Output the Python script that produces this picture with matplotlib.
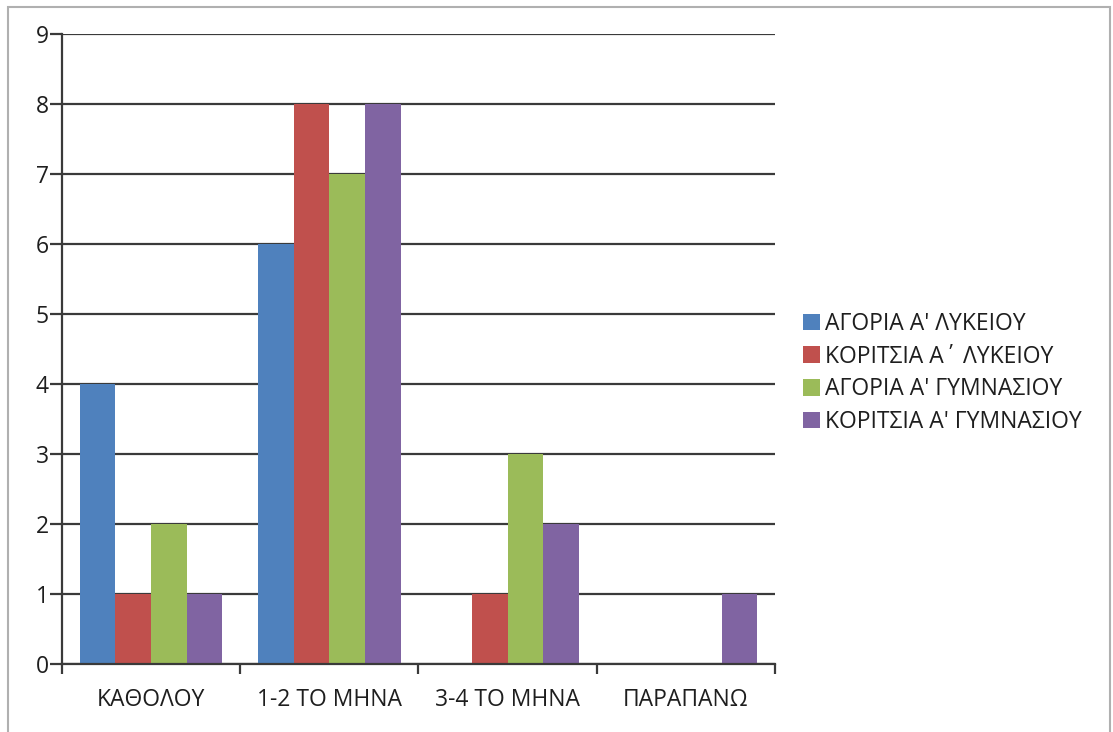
import numpy as np
import matplotlib.pyplot as plt
from matplotlib.patches import Rectangle

plt.rcParams['font.family'] = ['Open Sans', 'DejaVu Sans']

categories = ["ΚΑΘΟΛΟΥ", "1-2 ΤΟ ΜΗΝΑ", "3-4 ΤΟ ΜΗΝΑ", "ΠΑΡΑΠΑΝΩ"]
series_names = ["ΑΓΟΡΙΑ Α' ΛΥΚΕΙΟΥ", "ΚΟΡΙΤΣΙΑ Α΄ ΛΥΚΕΙΟΥ",
                "ΑΓΟΡΙΑ Α' ΓΥΜΝΑΣΙΟΥ", "ΚΟΡΙΤΣΙΑ Α' ΓΥΜΝΑΣΙΟΥ"]
boys_lyk = [4, 6, 0, 0]
girls_lyk = [1, 8, 1, 0]
boys_gym = [2, 7, 3, 0]
girls_gym = [1, 8, 2, 1]
colors = ["#4F81BD", "#C0504D", "#9BBB59", "#8064A2"]

fs = 16.5

fig = plt.figure(figsize=(11.13, 7.32), dpi=100)
ax = fig.add_axes([62 / 1113, 1 - 664 / 732, (775 - 62) / 1113, (664 - 34) / 732])

x = np.arange(len(categories))
width = 0.2
all_series = [boys_lyk, girls_lyk, boys_gym, girls_gym]
for i, (vals, name, c) in enumerate(zip(all_series, series_names, colors)):
    ax.bar(x + (i - 1.5) * width, vals, width, color=c, label=name, zorder=2)

ax.set_xlim(-0.5, 3.5)
ax.set_ylim(0, 9)
ax.set_yticks(range(10))
ax.yaxis.grid(True, color="#3a3a3a", linewidth=1.6, zorder=1)
ax.set_axisbelow(True)

ax.set_xticks(x)
ax.set_xticklabels(categories, fontsize=fs, color="#1e1e1e")
ax.set_xticks(np.arange(-0.5, 4, 1), minor=True)
ax.tick_params(axis="x", which="major", length=0, pad=17)
ax.tick_params(axis="x", which="minor", length=7, width=1.6, color="#3a3a3a", direction="out")
ax.tick_params(axis="y", length=8.5, width=1.6, color="#3a3a3a", labelsize=fs, labelcolor="#1e1e1e", pad=1)

for s in ["top", "right"]:
    ax.spines[s].set_visible(False)
for s in ["left", "bottom"]:
    ax.spines[s].set_color("#3a3a3a")
    ax.spines[s].set_linewidth(1.6)
ax.spines["left"].set_bounds(0, 9)

leg = fig.legend(loc="center left", bbox_to_anchor=(794 / 1113, 1 - 373 / 732),
                 frameon=False, fontsize=fs, handlelength=0.74, handleheight=0.74,
                 handletextpad=0.22, labelspacing=0.38, borderaxespad=0)
for t in leg.get_texts():
    t.set_color("#1e1e1e")

fig.patches.append(Rectangle((8 / 1113, -0.1), (1110 - 8) / 1113, 1.1 - 7 / 732,
                             transform=fig.transFigure, fill=False,
                             edgecolor="#b0b0b0", linewidth=1.5))

fig.savefig("out.png", dpi=100)
